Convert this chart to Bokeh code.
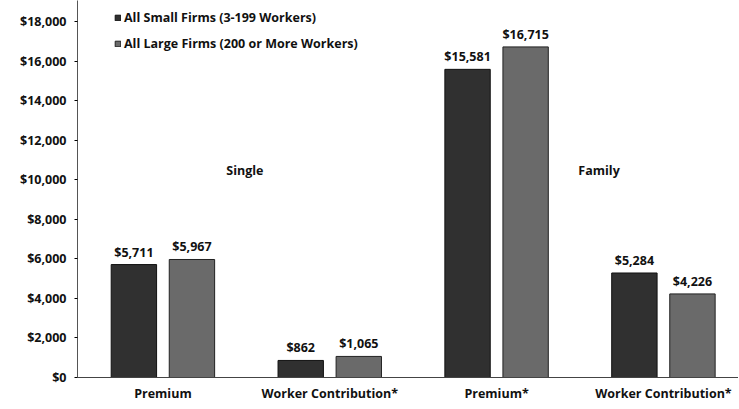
from bokeh.plotting import figure
from bokeh.models import ColumnDataSource, Range1d, FixedTicker, Legend, LegendItem, NumeralTickFormatter
from bokeh.core.properties import value
from bokeh.embed import file_html
from bokeh.resources import INLINE

categories = ["Premium", "Worker Contribution*", "Premium*", "Worker Contribution*"]
small_firms = [5711, 862, 15581, 5284]
large_firms = [5967, 1065, 16715, 4226]
y_ticks = [0, 2000, 4000, 6000, 8000, 10000, 12000, 14000, 16000, 18000]
series_names = ["All Small Firms (3-199 Workers)", "All Large Firms (200 or More Workers)"]
panel_names = ["Single", "Family"]

FONT = "Open Sans"
FS = "12.5px"
centers = [i + 0.5 for i in range(len(categories))]
off = 0.174
bw = 0.272

src_s = ColumnDataSource(dict(x=[c - off for c in centers], top=small_firms,
                              lab=["${:,}".format(v) for v in small_firms]))
src_l = ColumnDataSource(dict(x=[c + off for c in centers], top=large_firms,
                              lab=["${:,}".format(v) for v in large_firms]))

p = figure(width=738, height=408, output_backend="svg", toolbar_location=None,
           x_range=Range1d(-0.012, 3.95), y_range=Range1d(0, 19062),
           min_border_left=77, min_border_right=0, min_border_top=0, min_border_bottom=31)
p.outline_line_color = None
p.xgrid.grid_line_color = None
p.ygrid.grid_line_color = None
p.background_fill_color = "white"

r1 = p.vbar(x="x", top="top", width=bw, source=src_s, fill_color="#303030", line_color="#111111", line_width=1)
r2 = p.vbar(x="x", top="top", width=bw, source=src_l, fill_color="#6a6a6a", line_color="#222222", line_width=1)

for src in (src_s, src_l):
    p.text(x="x", y="top", text="lab", source=src, text_align="center", text_baseline="bottom",
           y_offset=-4, text_font=value(FONT), text_font_style="bold", text_font_size=FS,
           text_color="#111111")

p.text(x=[0.88, 2.99], y=[10466, 10466], text=panel_names, text_align="left", text_baseline="middle",
       text_font=value(FONT), text_font_style="bold", text_font_size=FS, text_color="#111111")

p.xaxis.ticker = FixedTicker(ticks=centers)
p.xaxis.major_label_overrides = {c: n for c, n in zip(centers, categories)}
p.xaxis.major_tick_line_color = None
p.xaxis.minor_tick_line_color = None
p.xaxis.axis_line_color = "#444444"
p.xaxis.major_label_text_font = FONT
p.xaxis.major_label_text_font_style = "bold"
p.xaxis.major_label_text_font_size = FS
p.xaxis.major_label_text_color = "#111111"
p.xaxis.major_label_standoff = 1

p.yaxis.ticker = FixedTicker(ticks=y_ticks)
p.yaxis.formatter = NumeralTickFormatter(format="$0,0")
p.yaxis.major_tick_in = 0
p.yaxis.major_tick_out = 3
p.yaxis.minor_tick_line_color = None
p.yaxis.axis_line_color = "#555555"
p.yaxis.major_label_text_font = FONT
p.yaxis.major_label_text_font_style = "bold"
p.yaxis.major_label_text_font_size = FS
p.yaxis.major_label_text_color = "#111111"
p.yaxis.major_label_standoff = 8

legend = Legend(items=[LegendItem(label=series_names[0], renderers=[r1]),
                       LegendItem(label=series_names[1], renderers=[r2])],
                location=(37, 325), orientation="vertical",
                glyph_width=7, glyph_height=7, label_height=7, spacing=9, padding=0,
                label_standoff=3, margin=0,
                label_text_font=FONT, label_text_font_style="bold", label_text_font_size=FS,
                label_text_color="#111111", border_line_color=None, background_fill_alpha=0)
p.add_layout(legend, "center")

open("out.html", "w").write(file_html(p, INLINE))
